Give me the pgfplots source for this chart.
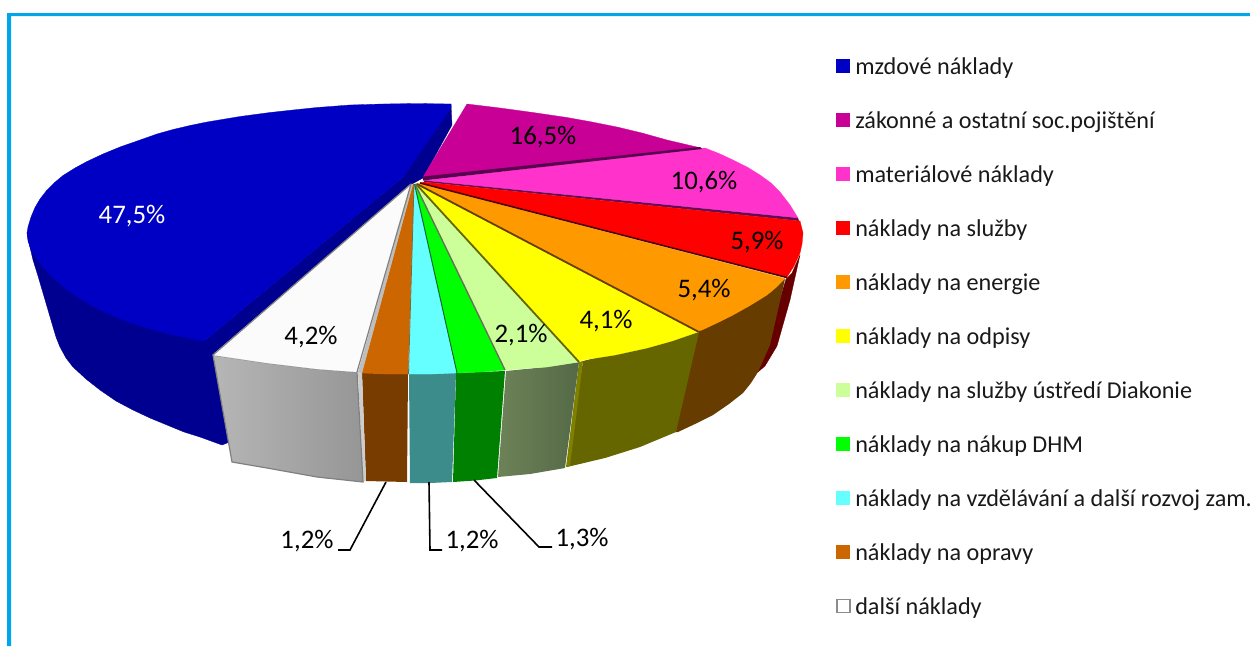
\documentclass[border=0pt]{standalone}
\usepackage{fontspec}
\setmainfont{Carlito}
\usepackage{pgfplots}
\pgfplotsset{compat=1.18}
\definecolor{cblue}{HTML}{0000C4}
\definecolor{cbluedk}{HTML}{000090}
\definecolor{cmag}{HTML}{C80096}
\definecolor{cpink}{HTML}{FF33CC}
\definecolor{cred}{HTML}{FF0000}
\definecolor{corg}{HTML}{FF9900}
\definecolor{cyel}{HTML}{FFFF00}
\definecolor{clgr}{HTML}{CCFF99}
\definecolor{cgrn}{HTML}{00FF00}
\definecolor{ccya}{HTML}{66FFFF}
\definecolor{cbrn}{HTML}{CC6600}
\definecolor{cwht}{HTML}{FBFBFB}
\definecolor{frame}{HTML}{00A6EB}
\pgfplotsset{
  swatch/.style={legend image code/.code={\fill[#1,draw=none](0pt,-5pt) rectangle (14pt,9pt);\path[draw=none,fill=none] (0pt,0pt) -- (19pt,0pt);}},
  swatchw/.style={legend image code/.code={\draw[draw=gray!90,line width=1.5pt,fill=white](0.5pt,-4.5pt) rectangle (13.5pt,8.5pt);\path[draw=none,fill=none] (0pt,0pt) -- (19pt,0pt);}},
  face/.style={forget plot,fill=#1,draw=#1,line width=0.3pt},
}
\begin{document}
\begin{tikzpicture}
\path[use as bounding box] (0,0) rectangle (1250pt,646pt);
\begin{axis}[
  at={(0,0)},anchor=south west,
  width=1250pt,height=646pt,scale only axis,
  xmin=0,xmax=1250,ymin=0,ymax=646,y dir=reverse,
  axis lines=none,clip=false,
  legend cell align=left,
  legend style={at={(axis cs:836,57)},anchor=north west,draw=none,fill=none,inner sep=0pt,outer sep=0pt,
    font=\fontsize{24.2}{24.2}\selectfont,text=black!90,row sep=32pt,
    nodes={inner xsep=0pt,inner ysep=0pt,text height=17pt,text depth=5pt}},
]
% frame
\addplot[forget plot,fill=frame,draw=none] coordinates {(7,646)(7,13)(1250,13)(1250,16)(11,16)(11,646)} --cycle;
% mzdové náklady: wall
\addplot[face=cbluedk] coordinates {(27,233)(29,243)(33,260)(38,276)(43,293)(48,310)(53,327)(56,337)(60,347)(66,358)(73,367)(86,379)(100,390)(116,401)(133,410)(150,418)(167,425)(184,432)(200,437)(222,445)(232,441)(213,354)(412,184)(423,178)(452,125)(451,104)(403,177)(204,341)} --cycle;
% mzdové náklady: top
\addplot[face=cblue] coordinates {(451,104)(417,103.5)(383,104)(350,105)(317,107.5)(293,110)(270,112.5)(240,116.5)(207,122)(190,125.5)(173,129.5)(157,134)(140,140)(120,147)(103,154)(87,161.5)(75,168)(63,175.5)(54,183)(47,190)(40,199)(35,207.5)(31,217)(28,227)(27,233)(28,241)(31,250)(36,258)(43,267)(52,277)(60,284)(67,290)(83,300.5)(100,310)(116,317)(133,323.5)(150,329)(167,333.5)(185,337.5)(204,341)(403,177)(451,108)} --cycle;
% walls of the front slices
\addplot[face={black!60!red}] coordinates {(800,255)(792,273)(786,279)(758,372)(765,366)(777,346)(790,300)} --cycle;
\addplot[forget plot,fill={rgb,255:red,102;green,60;blue,0},draw=none] coordinates {(785,279)(697,331)(675,432)(678,432)(695,424)(713,415)(729,404)(743,393)(751,383)(758,372)(770,345)} --cycle;
\addplot[forget plot,fill={rgb,255:red,102;green,102;blue,0},draw=none] coordinates {(583,361)(699,332)(676,432)(640,447)(605,458)(567,467)} --cycle;
\addplot[forget plot,fill={rgb,255:red,127;green,127;blue,0},draw=none] coordinates {(579,362)(583,361)(570,466)(566,467)} --cycle;
\addplot[forget plot,left color={rgb,255:red,110;green,130;blue,88},right color={rgb,255:red,84;green,105;blue,70},draw=none] coordinates {(506,371)(545,367)(579,362)(565,468)(530,474)(498,477)} --cycle;
\addplot[forget plot,fill={rgb,255:red,0;green,128;blue,0},draw=none] coordinates {(456,373)(505,371)(497,478)(475,480.5)(453,482)} --cycle;
\addplot[forget plot,fill={rgb,255:red,60;green,140;blue,140},draw=none] coordinates {(409,374)(456,373)(452,482)(430,483)(410,483)} --cycle;
\addplot[forget plot,fill={rgb,255:red,120;green,60;blue,0},draw=none] coordinates {(362,373)(408,374)(407,482)(366,481)} --cycle;
\addplot[forget plot,fill={rgb,255:red,205;green,205;blue,205},draw=none] coordinates {(358,372)(362,373)(366,480)(363,482)} --cycle;
\addplot[forget plot,left color={rgb,255:red,182;green,182;blue,182},right color={rgb,255:red,150;green,150;blue,150},draw={rgb,255:red,128;green,128;blue,128},line width=1.2pt] coordinates {(213,355)(240,359)(267,363)(317,369)(357,372)(363,482)(317,477)(267,468)(232,462)} --cycle;
% top faces
\addplot[face=cmag] coordinates {(467,104)(500,108)(533,112.5)(567,117.5)(592,122)(617,127)(642,133)(667,140)(699,147.5)(423,177)} --cycle;
\addplot[face=cpink] coordinates {(705,148)(719,153.5)(733,160)(747,167)(760,175)(771,183)(780,192)(790,205)(798,218)(424,180.5)} --cycle;
\addplot[forget plot,fill={rgb,255:red,90;green,0;blue,80},draw=none] coordinates {(700,147)(423,176.5)(423,180.5)(702,149)} --cycle;
\addplot[forget plot,fill={rgb,255:red,100;green,10;blue,90},draw=none] coordinates {(798,218)(799,221)(424,182)(424,180.5)} --cycle;
\addplot[face=cred] coordinates {(800,221)(803,233)(802,244)(800,253)(794,266)(787,277)(420,183)(424,182)} --cycle;
\addplot[face=corg] coordinates {(785,278.5)(776,287.5)(767,295)(750,305.5)(733,315)(718,322.5)(702,330)(698,331)(417,184)(419,183.5)} --cycle;
\addplot[face=cyel] coordinates {(698,332)(672,341)(647,348)(615,355)(583,360)(579,362)(416,184)(417,184)} --cycle;
\addplot[face=clgr] coordinates {(579,362)(547,367)(506,370)(415,184)(416,184)} --cycle;
\addplot[face=cgrn] coordinates {(505,370)(481,372)(457,373)(414.5,184)(415,184)} --cycle;
\addplot[face=ccya] coordinates {(456,373)(432,374)(409,374)(414,184)(414.5,184)} --cycle;
\addplot[face=cbrn] coordinates {(408,374)(385,374)(362,373)(413,184)(414,184)} --cycle;
\addplot[face=cwht] coordinates {(213,355)(240,359)(267,363)(317,369)(357,372)(411,184)} --cycle;
\addplot[forget plot,fill={rgb,255:red,190;green,190;blue,190},draw=none] coordinates {(358,372)(362,373)(413,184)(411,184)} --cycle;
% edges between slices
\addplot[forget plot,draw={rgb,255:red,80;green,0;blue,0},line width=1.6pt] coordinates {(787,277.5)(420,183)};
\addplot[forget plot,draw={rgb,255:red,102;green,62;blue,0},line width=1.8pt] coordinates {(698,331.5)(417,184)};
\addplot[forget plot,draw={rgb,255:red,102;green,102;blue,0},line width=1.8pt] coordinates {(579,362)(416,184)};
\addplot[forget plot,draw={rgb,255:red,105;green,115;blue,85},line width=1.4pt] coordinates {(505,370)(415,184)};
\addplot[forget plot,draw={rgb,255:red,0;green,110;blue,50},line width=1pt] coordinates {(457,373)(414.5,184)};
\addplot[forget plot,draw={rgb,255:red,110;green,110;blue,70},line width=0.8pt] coordinates {(408.5,374)(414,184)};
\addplot[forget plot,draw={rgb,255:red,128;green,128;blue,128},line width=1.2pt] coordinates {(213,355)(411,184)};
\addplot[forget plot,draw={rgb,255:red,128;green,128;blue,128},line width=1.2pt] coordinates {(357,372)(411,184)};
% leader lines
\addplot[forget plot,draw=black,line width=1.6pt] coordinates {(386,482)(350,550)(338,550)};
\addplot[forget plot,draw=black,line width=1.6pt] coordinates {(429,482)(430,550)(442,550)};
\addplot[forget plot,draw=black,line width=1.6pt] coordinates {(474,480)(539,547)(552,547)};
% value labels
\begin{scope}[every node/.style={font=\fontsize{26.8}{26.8}\selectfont,text=black,inner sep=0pt}]
\node[text=white] at (axis cs:132,216) {47,5\%};
\node at (axis cs:543,137) {16,5\%};
\node at (axis cs:704,182) {10,6\%};
\node at (axis cs:757,242) {5,9\%};
\node at (axis cs:704,290) {5,4\%};
\node at (axis cs:606,321) {4,1\%};
\node at (axis cs:521,335) {2,1\%};
\node at (axis cs:582,539) {1,3\%};
\node at (axis cs:472,541) {1,2\%};
\node at (axis cs:307,541) {1,2\%};
\node at (axis cs:311,337) {4,2\%};
\end{scope}
% legend
\addlegendimage{swatch=cblue}\addlegendentry{mzdové náklady}
\addlegendimage{swatch=cmag}\addlegendentry{zákonné a ostatní soc.pojištění}
\addlegendimage{swatch=cpink}\addlegendentry{materiálové náklady}
\addlegendimage{swatch=cred}\addlegendentry{náklady na služby}
\addlegendimage{swatch=corg}\addlegendentry{náklady na energie}
\addlegendimage{swatch=cyel}\addlegendentry{náklady na odpisy}
\addlegendimage{swatch=clgr}\addlegendentry{náklady na služby ústředí Diakonie}
\addlegendimage{swatch=cgrn}\addlegendentry{náklady na nákup DHM}
\addlegendimage{swatch=ccya}\addlegendentry{náklady na vzdělávání a další rozvoj zam.}
\addlegendimage{swatch=cbrn}\addlegendentry{náklady na opravy}
\addlegendimage{swatchw}\addlegendentry{další náklady}
\end{axis}
\end{tikzpicture}
\end{document}
